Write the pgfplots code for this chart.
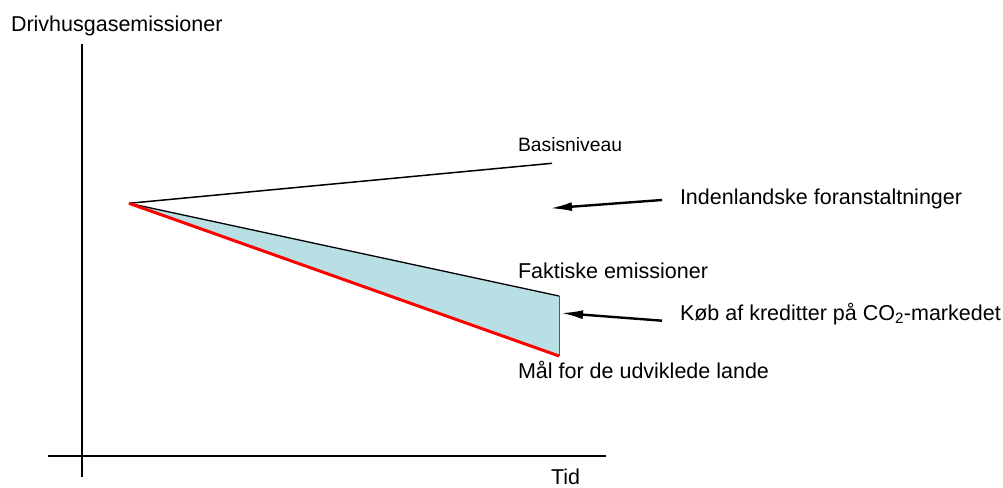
\documentclass[border=0pt]{standalone}
\usepackage{fontspec}
\setmainfont{Liberation Sans}
\usepackage{pgfplots}
\pgfplotsset{compat=1.18}
\usetikzlibrary{arrows.meta}
\definecolor{fillblue}{RGB}{184,223,227}
\definecolor{redline}{RGB}{255,0,0}
\newcommand\tf{\fontsize{21.5bp}{25bp}\selectfont}
\tikzset{lbl/.style={inner sep=0pt, outer sep=0pt, anchor=base west, font=\tf}}
\begin{document}
\begin{tikzpicture}
\begin{axis}[
  width=1003bp, height=487bp, scale only axis,
  xmin=0, xmax=1003, ymin=0, ymax=487,
  hide axis, clip=false,
]
% bounding frame
\addplot[draw=none, forget plot] coordinates {(0,0) (1003,487)};
% axes
\addplot[black, line width=1.6bp] coordinates {(82,443) (82,10)};
\addplot[black, line width=1.6bp] coordinates {(48,31) (606,31)};
% shaded area between actual emissions and target
\addplot[fill=fillblue, draw=none] coordinates {(129,283.7) (559,191) (559,131)} -- cycle;
\addplot[gray!70!black, line width=1bp] coordinates {(559,191) (559,131)};
% baseline
\addplot[black, line width=1.5bp] coordinates {(129,283.7) (552,323.7)};
% actual emissions
\addplot[black, line width=1.3bp] coordinates {(129,283.7) (559,191)};
% target
\addplot[redline, line width=3bp] coordinates {(129,283.7) (559,131)};
% arrows
\addplot[black, line width=2.4bp, -{Latex[length=22bp,width=9bp]}] coordinates {(662,287) (550,278.7)};
\addplot[black, line width=2.4bp, -{Latex[length=22bp,width=9bp]}] coordinates {(662,166.3) (561,174)};
% texts
\node[lbl] at (axis cs:11,455.5) {Drivhusgasemissioner};
\node[lbl, font=\fontsize{19.3bp}{23bp}\selectfont] at (axis cs:518,335) {Basisniveau};
\node[lbl] at (axis cs:680,282) {Indenlandske foranstaltninger};
\node[lbl] at (axis cs:518,208) {Faktiske emissioner};
\node[lbl] at (axis cs:680,167) {Køb af kreditter på CO\textsubscript{2}-markedet};
\node[lbl] at (axis cs:518,109) {Mål for de udviklede lande};
\node[lbl] at (axis cs:551,3) {Tid};
\end{axis}
\end{tikzpicture}
\end{document}
